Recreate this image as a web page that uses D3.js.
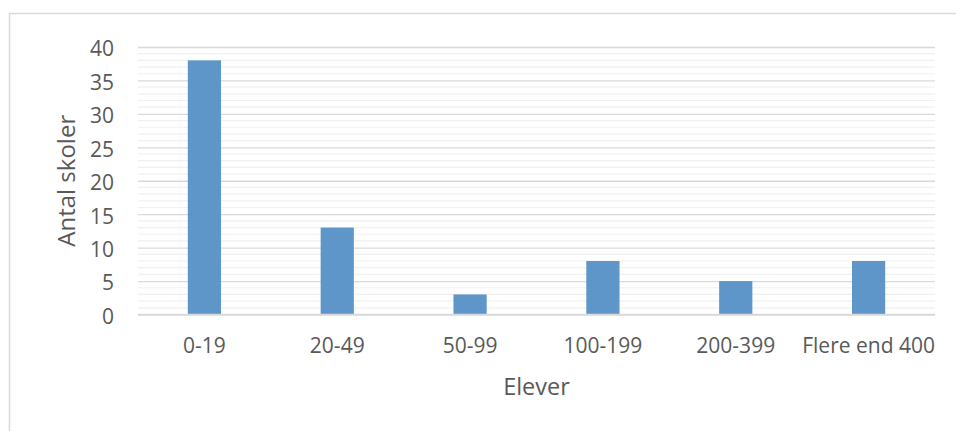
<!DOCTYPE html>
<html>
<head>
<meta charset="utf-8">
<script src="https://cdn.jsdelivr.net/npm/d3@7"></script>
<style>
  html, body { margin: 0; padding: 0; background: #fff; }
  svg { display: block; }
  text { font-family: "Open Sans", "Noto Sans", sans-serif; fill: #595959; }
</style>
</head>
<body>
<script>
const categories = ["0-19", "20-49", "50-99", "100-199", "200-399", "Flere end 400"];
const values = [38, 13, 3, 8, 5, 8];
const yTicks = [0, 5, 10, 15, 20, 25, 30, 35, 40];
const yMinorTicks = d3.range(0, 41, 1);
const xTitle = "Elever";
const yTitle = "Antal skoler";

const W = 956, H = 431;
const plot = { left: 138, right: 935, top: 47, bottom: 314.5 };

const svg = d3.select("body").append("svg").attr("width", W).attr("height", H);

// chart border
svg.append("rect")
  .attr("x", 9.5).attr("y", 13.5)
  .attr("width", 1200).attr("height", 1200)
  .attr("fill", "none").attr("stroke", "#d9d9d9").attr("stroke-width", 1.5);

const x = d3.scaleBand().domain(categories).range([plot.left, plot.right]).paddingInner(0).paddingOuter(0);
const y = d3.scaleLinear().domain([0, 40]).range([plot.bottom, plot.top]);

// minor gridlines
svg.append("g").selectAll("line")
  .data(yMinorTicks.filter(v => v % 5 !== 0))
  .join("line")
  .attr("x1", plot.left).attr("x2", plot.right)
  .attr("y1", d => y(d)).attr("y2", d => y(d))
  .attr("stroke", "#f0f0f0").attr("stroke-width", 1.2);

// major gridlines via axis
const yGrid = d3.axisLeft(y).tickValues(yTicks).tickSize(-(plot.right - plot.left)).tickFormat("");
const gGrid = svg.append("g").attr("transform", `translate(${plot.left},0)`).call(yGrid);
gGrid.select(".domain").remove();
gGrid.selectAll("line").attr("stroke", "#d9d9d9").attr("stroke-width", 1.3);

// bars
const barW = x.bandwidth() * 0.25;
svg.append("g").selectAll("rect")
  .data(categories.map((c, i) => ({ c, v: values[i] })))
  .join("rect")
  .attr("x", d => x(d.c) + x.bandwidth() / 2 - barW / 2)
  .attr("width", barW)
  .attr("y", d => y(d.v))
  .attr("height", d => y(0) - y(d.v))
  .attr("fill", "#5e96ca");

// x axis baseline
svg.append("line")
  .attr("x1", plot.left).attr("x2", plot.right)
  .attr("y1", y(0)).attr("y2", y(0))
  .attr("stroke", "#d9d9d9").attr("stroke-width", 1.5);

// y tick labels
const yAxis = d3.axisLeft(y).tickValues(yTicks).tickSize(0).tickPadding(24);
const gy = svg.append("g").attr("transform", `translate(${plot.left},0)`).call(yAxis);
gy.select(".domain").remove();
gy.selectAll("text")
  .attr("font-family", "Open Sans, sans-serif")
  .attr("font-size", 21).attr("fill", "#595959").attr("dy", "0.42em");

// x tick labels
const xAxis = d3.axisBottom(x).tickSize(0).tickPadding(0);
const gx = svg.append("g").attr("transform", `translate(0,${plot.bottom})`).call(xAxis);
gx.select(".domain").remove();
gx.selectAll("text")
  .attr("font-family", "Open Sans, sans-serif")
  .attr("font-size", 21).attr("fill", "#595959")
  .attr("dy", null).attr("y", 38.5);

// axis titles
svg.append("text")
  .attr("x", (plot.left + plot.right) / 2).attr("y", 395)
  .attr("text-anchor", "middle").attr("font-size", 23.5)
  .text(xTitle);

svg.append("text")
  .attr("transform", `translate(75,${(plot.top + plot.bottom) / 2}) rotate(-90)`)
  .attr("text-anchor", "middle").attr("font-size", 24)
  .text(yTitle);
</script>
</body>
</html>
